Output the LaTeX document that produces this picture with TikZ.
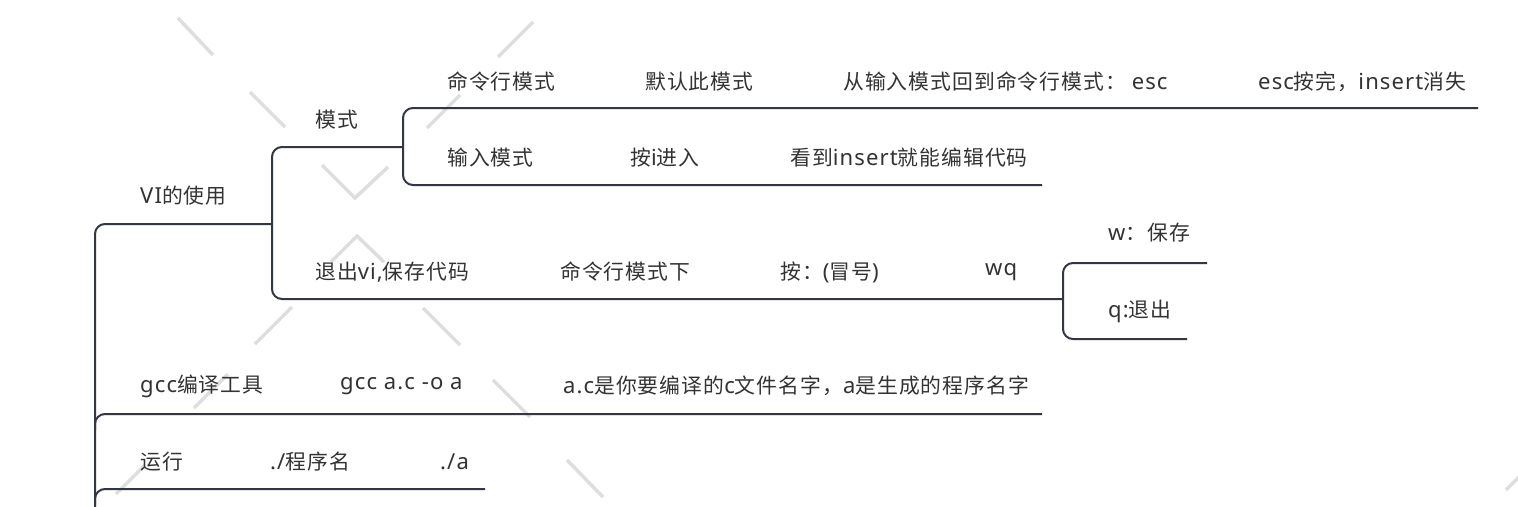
\documentclass[tikz,border=0pt]{standalone}
\usepackage{fontspec}
\setmainfont{Noto Sans CJK SC}[LetterSpace=5]
\newfontfamily\latf{Noto Sans}[Scale=1.06,LetterSpace=5]
\newcommand{\lt}[1]{{\latf #1}}
\definecolor{linec}{RGB}{50,55,70}
\definecolor{txtc}{RGB}{51,51,51}
\definecolor{wmc}{RGB}{222,222,222}
\tikzset{
  txt/.style={anchor=west,inner sep=0pt,text=txtc,font=\fontsize{20.8}{24}\selectfont},
  conn/.style={draw=linec,line width=2pt,rounded corners=10pt},
  wm/.style={draw=wmc,line width=3.5pt}
}
\begin{document}
\begin{tikzpicture}[x=1pt,y=-1pt]
\useasboundingbox[fill=white] (0,0) rectangle (1518,506);
% watermark dashes
\draw[wm] (178,18)--(213,55) (250,92)--(285,127) (322,165)--(355,198)--(388,167)
  (533,22)--(498,57) (460,95)--(427,128)
  (331,262)--(357,236)--(384,262)
  (292,307)--(255,344) (423,308)--(460,345)
  (228,374)--(194,408) (145,465)--(116,494)
  (493,380)--(530,417) (567,460)--(603,497)
  (1506,490)--(1520,476);
% coordinates
\coordinate (rootL) at (95,510);
\coordinate (vi) at (272,224);
\coordinate (mode) at (403,147);
\coordinate (wq) at (1063,299);
% text nodes
\node[txt] (cmd) at (447,82) {命令行模式};
\node[txt] (cmd2) at (645,82) {默认此模式};
\node[txt] (cmd3) at (843,82) {从输入模式回到命令行模式： \lt{esc}};
\node[txt] (cmd4) at (1258,82) {\lt{esc}按完，\lt{insert}消失};
\node[txt] (ms) at (315,120) {模式};
\node[txt] (inp) at (447,158) {输入模式};
\node[txt] (inp2) at (630,158) {按\lt{i}进入};
\node[txt] (inp3) at (790,158) {看到\lt{insert}就能编辑代码};
\node[txt] (vit) at (140,196) {\lt{VI}的使用};
\node[txt] (w) at (1108,233) {\lt{w}：保存};
\node[txt] (ex) at (315,272) {退出\lt{vi,}保存代码};
\node[txt] (ex2) at (560,272) {命令行模式下};
\node[txt] (ex3) at (780,272) {按：\lt{(}冒号\lt{)}};
\node[txt] (ex4) at (985,272) {\lt{wq}};
\node[txt] (q) at (1108,311) {\lt{q:}退出};
\node[txt] (gcc) at (140,386) {\lt{gcc}编译工具};
\node[txt] (gcc2) at (340,386) {\lt{gcc a.c -o a}};
\node[txt] (gcc3) at (563,386) {\lt{a.c}是你要编译的\lt{c}文件名字，\lt{a}是生成的程序名字};
\node[txt] (run) at (140,462) {运行};
\node[txt] (run2) at (270,462) {\lt{./}程序名};
\node[txt] (run3) at (440,462) {\lt{./a}};
% connectors
\draw[conn] (rootL) -- (95,224) -- (vi);
\draw[conn] (95,430) -- (95,414) -- (1042,414);
\draw[conn] (95,505) -- (95,489) -- (485,489);
\draw[conn] (mode) -- (272,147) -- (272,299) -- (wq);
\draw[conn] (1478,108) -- (403,108) -- (403,185) -- (1042,185);
\draw[conn] (1207,263) -- (1063,263) -- (1063,339) -- (1187,339);
\end{tikzpicture}
\end{document}
